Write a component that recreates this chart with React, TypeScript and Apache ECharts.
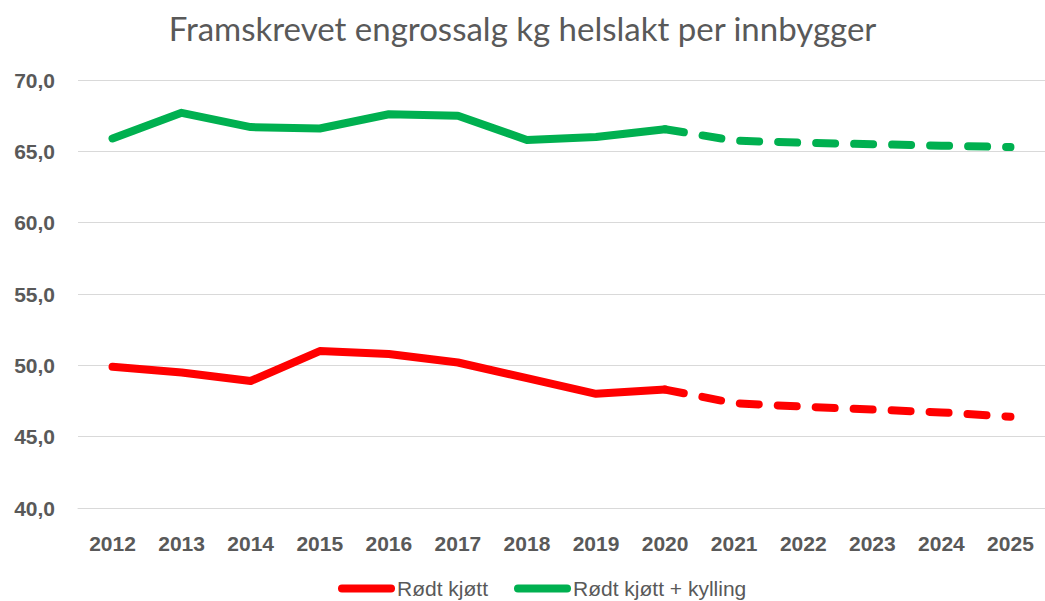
import React, { useEffect, useRef } from "react";
import * as echarts from "echarts";

const years = ["2012", "2013", "2014", "2015", "2016", "2017", "2018", "2019", "2020", "2021", "2022", "2023", "2024", "2025"];
const rodtKjott = [49.9, 49.5, 48.9, 51.0, 50.8, 50.2, 49.1, 48.0, 48.3, 47.35, 47.1, 46.9, 46.7, 46.4];
const rodtKjottKylling = [65.9, 67.7, 66.7, 66.6, 67.6, 67.5, 65.8, 66.0, 66.55, 65.75, 65.6, 65.5, 65.4, 65.3];
const forecastFrom = "2020";
const seriesNames = ["Rødt kjøtt", "Rødt kjøtt + kylling"];
const seriesColors = ["#ff0000", "#00b050"];
const title = "Framskrevet engrossalg kg helslakt per innbygger";
const yMin = 40;
const yMax = 70;
const yStep = 5;

const capsule = "path://M4,0 H53 A4,4 0 0 1 53,8 H4 A4,4 0 0 1 4,0 Z";

export default function App() {
  const ref = useRef<HTMLDivElement>(null);
  useEffect(() => {
    document.body.style.margin = "0";
    if (!ref.current) return;
    const chart = echarts.init(ref.current, null, { renderer: "svg" });
    const fIdx = years.indexOf(forecastFrom);
    const actual = (arr: number[]) => arr.map((v, i) => (i <= fIdx ? v : null));
    const forecast = (arr: number[]) => arr.map((v, i) => (i >= fIdx ? v : null));
    const all = [rodtKjott, rodtKjottKylling];
    const series: any[] = [];
    all.forEach((arr, k) => {
      series.push({
        name: seriesNames[k],
        type: "line",
        data: actual(arr),
        symbol: "none",
        connectNulls: false,
        lineStyle: { color: seriesColors[k], width: 8, cap: "round", join: "round" },
        itemStyle: { color: seriesColors[k] },
      });
      series.push({
        name: seriesNames[k],
        type: "line",
        data: forecast(arr),
        symbol: "none",
        connectNulls: false,
        lineStyle: { color: seriesColors[k], width: 8, cap: "round", join: "round", type: [19, 19] },
        itemStyle: { color: seriesColors[k] },
      });
    });
    chart.setOption({
      animation: false,
      title: {
        text: title,
        left: "center",
        top: 6,
        textStyle: { fontFamily: "Lato, sans-serif", fontSize: 33, fontWeight: "normal", color: "#595959" },
      },
      legend: {
        data: seriesNames.map((n) => ({ name: n, icon: capsule })),
        left: 333,
        top: 573,
        itemWidth: 57,
        itemHeight: 8,
        itemGap: 26,
        textStyle: { fontFamily: "Liberation Sans, Arial, sans-serif", fontSize: 21, lineHeight: 20, color: "#595959", padding: [0, 0, 0, -3] },
      },
      grid: { left: 78, top: 80, width: 973, height: 428 },
      xAxis: {
        type: "category",
        data: years,
        boundaryGap: true,
        axisLine: { show: true, lineStyle: { color: "#d9d9d9", width: 1 } },
        axisTick: { show: false },
        axisLabel: {
          margin: 25,
          fontFamily: "Liberation Sans, Arial, sans-serif",
          fontWeight: "bold",
          fontSize: 21,
          color: "#595959",
        },
      },
      yAxis: {
        type: "value",
        min: yMin,
        max: yMax,
        interval: yStep,
        axisLine: { show: false },
        axisTick: { show: false },
        splitLine: { lineStyle: { color: "#d9d9d9", width: 1 } },
        axisLabel: {
          margin: 23,
          formatter: (v: number) => v.toFixed(1).replace(".", ","),
          fontFamily: "Liberation Sans, Arial, sans-serif",
          fontWeight: "bold",
          fontSize: 21,
          color: "#595959",
        },
      },
      series,
    });
    return () => chart.dispose();
  }, []);
  return <div ref={ref} style={{ width: 1045, height: 601 }} />;
}
